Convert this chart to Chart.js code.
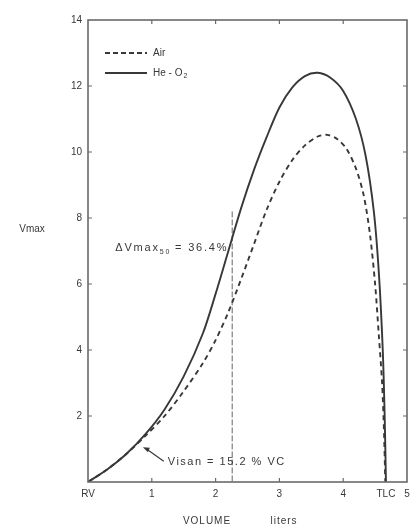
<!DOCTYPE html>
<html>
<head>
<meta charset="utf-8">
<title>Maximal expiratory flow-volume curves</title>
<script src="https://cdn.jsdelivr.net/npm/chart.js@4.4.0/dist/chart.umd.min.js"></script>
<style>
  html, body { margin: 0; padding: 0; background: #fff; }
  #wrap { width: 410px; height: 526px; }
  canvas { filter: blur(0.45px); }
</style>
</head>
<body>
<div id="wrap"><canvas id="flowChart" width="410" height="526"></canvas></div>
<script>
// ============================
// DATA
// ============================
// He-O2 curve (solid)
const heVolume = [0, 0.3, 0.6, 0.9, 1.2, 1.5, 1.8, 2.0, 2.2, 2.4, 2.6, 2.8, 3.0, 3.2, 3.4, 3.6, 3.8, 4.0, 4.2, 4.35, 4.48, 4.56, 4.62, 4.65, 4.67];
const heFlow   = [0, 0.38, 0.85, 1.45, 2.2, 3.2, 4.5, 5.7, 7.0, 8.3, 9.45, 10.45, 11.35, 11.95, 12.3, 12.4, 12.25, 11.85, 11.0, 9.9, 8.2, 6.3, 4.0, 2.0, 0];

// Air curve (dashed)
const airVolume = [0, 0.3, 0.6, 0.9, 1.2, 1.5, 1.8, 2.0, 2.2, 2.4, 2.6, 2.8, 3.0, 3.2, 3.4, 3.6, 3.75, 3.9, 4.05, 4.2, 4.32, 4.42, 4.5, 4.56, 4.61, 4.64, 4.66];
const airFlow   = [0, 0.38, 0.85, 1.4, 2.0, 2.75, 3.6, 4.3, 5.15, 6.15, 7.2, 8.25, 9.1, 9.75, 10.2, 10.47, 10.52, 10.4, 10.1, 9.5, 8.7, 7.5, 6.0, 4.4, 3.0, 1.5, 0];

// Vmax50 marker (vertical line)
const markerVolume = 2.26;
const markerFlow = [8.2, 0];

// Axis ticks
const xTickValues = [0, 1, 2, 3, 4, 4.67, 5];
const xTickLabels = ["RV", "1", "2", "3", "4", "TLC", "5"];
const yTickValues = [0, 2, 4, 6, 8, 10, 12, 14];
const yTickLabels = ["", "2", "4", "6", "8", "10", "12", "14"];

// ============================
// STYLE
// ============================
const INK = "#383838";
const FRAME = "#6a6a6a";
const FONT = "'Liberation Sans', Arial, sans-serif";

function toPoints(xs, ys) {
  return xs.map((x, i) => ({ x: x, y: ys[i] }));
}

// ============================
// FRAME, INWARD TICKS, LEGEND, NOTES
// ============================
const decorPlugin = {
  id: "decor",
  afterDraw(chart) {
    const ctx = chart.ctx;
    const area = chart.chartArea;
    const xs = chart.scales.x;
    const ys = chart.scales.y;

    ctx.save();

    // box
    ctx.strokeStyle = FRAME;
    ctx.lineWidth = 1.6;
    ctx.strokeRect(area.left, area.top, area.right - area.left, area.bottom - area.top);

    // inward ticks
    ctx.lineWidth = 1.2;
    ctx.beginPath();
    [1, 2, 3, 4].forEach(v => {
      const px = xs.getPixelForValue(v);
      ctx.moveTo(px, area.bottom); ctx.lineTo(px, area.bottom - 4);
      ctx.moveTo(px, area.top); ctx.lineTo(px, area.top + 4);
    });
    yTickValues.slice(1, -1).forEach(v => {
      const py = ys.getPixelForValue(v);
      ctx.moveTo(area.left, py); ctx.lineTo(area.left + 4, py);
      ctx.moveTo(area.right, py); ctx.lineTo(area.right - 4, py);
    });
    ctx.stroke();

    // legend
    ctx.strokeStyle = INK;
    ctx.fillStyle = INK;
    ctx.lineWidth = 1.8;
    const lx = area.left + 17;
    const ly = area.top + 33;
    ctx.setLineDash([5, 3]);
    ctx.beginPath(); ctx.moveTo(lx, ly); ctx.lineTo(lx + 42, ly); ctx.stroke();
    ctx.setLineDash([]);
    ctx.beginPath(); ctx.moveTo(lx, ly + 20); ctx.lineTo(lx + 42, ly + 20); ctx.stroke();

    ctx.font = "10px " + FONT;
    ctx.textBaseline = "middle";
    ctx.textAlign = "left";
    ctx.fillText("Air", lx + 48, ly);
    ctx.fillText("He - O", lx + 48, ly + 20);
    const heW = ctx.measureText("He - O").width;
    ctx.font = "7px " + FONT;
    ctx.fillText("2", lx + 48 + heW + 1, ly + 23);

    // y title
    ctx.font = "10px " + FONT;
    ctx.textAlign = "center";
    ctx.fillText("Vmax", 32, ys.getPixelForValue(7.65));

    // delta Vmax50 note, ending on the He-O2 curve
    const dy = ys.getPixelForValue(7.1);
    const dEnd = xs.getPixelForValue(2.2);
    ctx.textAlign = "left";
    ctx.letterSpacing = "1.8px";
    ctx.font = "11px " + FONT;
    const part1 = "\u0394Vmax";
    const part3 = "= 36.4%";
    const w1 = ctx.measureText(part1).width;
    ctx.font = "7px " + FONT;
    const w2 = ctx.measureText("50").width;
    ctx.font = "11px " + FONT;
    const w3 = ctx.measureText(part3).width;
    let tx = dEnd - (w1 + w2 + w3 + 4);
    ctx.fillText(part1, tx, dy);
    ctx.font = "7px " + FONT;
    ctx.fillText("50", tx + w1, dy + 4);
    ctx.font = "11px " + FONT;
    ctx.fillText(part3, tx + w1 + w2 + 4, dy);

    // Visan note with arrow to the crossing
    const ax = xs.getPixelForValue(0.86);
    const ay = ys.getPixelForValue(1.05);
    const nx = xs.getPixelForValue(1.25);
    const ny = ys.getPixelForValue(0.6);
    ctx.letterSpacing = "1.5px";
    ctx.lineWidth = 1.2;
    ctx.beginPath(); ctx.moveTo(nx - 4, ny - 1); ctx.lineTo(ax + 4, ay + 2); ctx.stroke();
    ctx.beginPath();
    ctx.moveTo(ax, ay);
    ctx.lineTo(ax + 7, ay + 0.5);
    ctx.lineTo(ax + 5, ay + 5);
    ctx.closePath();
    ctx.fill();
    ctx.fillText("Visan = 15.2 % VC", nx, ny);

    // x title
    ctx.font = "10px " + FONT;
    ctx.letterSpacing = "1px";
    ctx.textAlign = "center";
    ctx.fillText("VOLUME", 207, 521);
    ctx.fillText("liters", 284, 521);

    ctx.restore();
  }
};

// ============================
// CHART
// ============================
const ctx = document.getElementById("flowChart").getContext("2d");

new Chart(ctx, {
  type: "scatter",
  data: {
    datasets: [
      {
        label: "He - O2",
        data: toPoints(heVolume, heFlow),
        showLine: true,
        borderColor: INK,
        borderWidth: 1.9,
        pointRadius: 0,
        tension: 0.3
      },
      {
        label: "Air",
        data: toPoints(airVolume, airFlow),
        showLine: true,
        borderColor: INK,
        borderWidth: 1.9,
        borderDash: [5, 4],
        pointRadius: 0,
        tension: 0.3
      },
      {
        label: "Vmax50",
        data: toPoints([markerVolume, markerVolume], markerFlow),
        showLine: true,
        borderColor: "#666",
        borderWidth: 1,
        borderDash: [6, 2],
        pointRadius: 0
      }
    ]
  },
  options: {
    responsive: false,
    animation: false,
    layout: { padding: { top: 20, right: 3, left: 0, bottom: 0 } },
    plugins: {
      legend: { display: false },
      tooltip: { enabled: false }
    },
    scales: {
      x: {
        type: "linear",
        min: 0,
        max: 5,
        afterFit(scale) {
          scale.height = 44;
          scale.paddingLeft = 0;
          scale.paddingRight = 0;
        },
        afterBuildTicks(scale) { scale.ticks = xTickValues.map(v => ({ value: v })); },
        grid: { display: false, drawTicks: false },
        border: { display: false },
        ticks: {
          autoSkip: false,
          maxRotation: 0,
          padding: 6,
          color: INK,
          font: { family: FONT, size: 10 },
          callback: (v) => xTickLabels[xTickValues.indexOf(v)]
        }
      },
      y: {
        type: "linear",
        min: 0,
        max: 14,
        afterFit(scale) {
          scale.width = 88;
          scale.paddingTop = 0;
          scale.paddingBottom = 0;
        },
        afterBuildTicks(scale) { scale.ticks = yTickValues.map(v => ({ value: v })); },
        grid: { display: false, drawTicks: false },
        border: { display: false },
        ticks: {
          autoSkip: false,
          padding: 6,
          color: INK,
          font: { family: FONT, size: 10 },
          callback: (v) => yTickLabels[yTickValues.indexOf(v)]
        }
      }
    }
  },
  plugins: [decorPlugin]
});
</script>
</body>
</html>
